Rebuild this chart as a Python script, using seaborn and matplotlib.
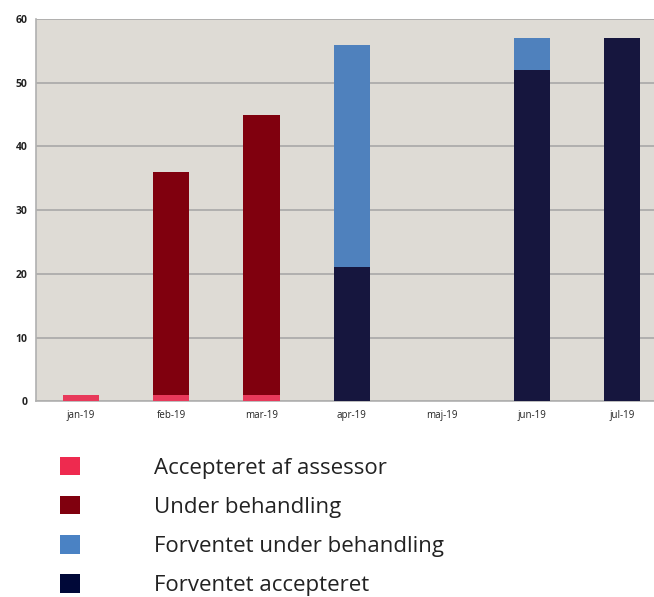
import matplotlib
matplotlib.use("Agg")
import matplotlib.pyplot as plt
import seaborn as sns
import pandas as pd
import numpy as np
from matplotlib.patches import Patch

months = ["jan-19", "feb-19", "mar-19", "apr-19", "maj-19", "jun-19", "jul-19"]
accepteret = [1, 1, 1, 0, 0, 0, 0]
under_behandling = [0, 35, 44, 0, 0, 0, 0]
forventet_accepteret = [0, 0, 0, 21, 0, 52, 57]
forventet_under = [0, 0, 0, 35, 0, 5, 0]

series = [
    ("Accepteret af assessor", accepteret, "#e8395a"),
    ("Under behandling", under_behandling, "#80000e"),
    ("Forventet accepteret", forventet_accepteret, "#16163e"),
    ("Forventet under behandling", forventet_under, "#4f81bd"),
]
legend_order = ["Accepteret af assessor", "Under behandling",
                "Forventet under behandling", "Forventet accepteret"]
legend_colors = {"Accepteret af assessor": "#ee2a4f", "Under behandling": "#80000e",
                 "Forventet under behandling": "#4a82c4", "Forventet accepteret": "#000838"}

sns.set_style("white")
plt.rcParams["font.family"] = ["Open Sans", "DejaVu Sans"]

fig = plt.figure(figsize=(6.54, 5.97), dpi=100)
ax = fig.add_axes([0.055, 0.328, 0.945, 0.64])
ax.set_facecolor("#dedbd5")

bottom = np.zeros(len(months))
for name, vals, col in series:
    df = pd.DataFrame({"month": months, "value": vals})
    sns.barplot(data=df, x="month", y="value", color=col, width=0.4,
                bottom=bottom, ax=ax, saturation=1, zorder=3, linewidth=0)
    bottom = bottom + np.array(vals)

ax.set_yticks(range(0, 61, 10))
ax.set_xlabel("")
ax.set_ylabel("")
ax.yaxis.grid(True, color="#a8a8a8", linewidth=1.2, zorder=1)
ax.set_axisbelow(True)
for s in ["top", "right"]:
    ax.spines[s].set_visible(False)
for s in ["left", "bottom"]:
    ax.spines[s].set_color("#b0b0b0")
    ax.spines[s].set_linewidth(1.2)

ax.set_xticks(np.arange(len(months)))
ax.set_xticklabels(months, fontsize=7, color="#222222")
ax.tick_params(axis="x", length=0, pad=6)
ax.set_xticks(np.arange(len(months)) + 0.5, minor=True)
ax.tick_params(axis="x", which="minor", length=4, color="#b0b0b0")
ax.tick_params(axis="y", length=3, color="#b0b0b0", labelsize=7.5, pad=3)
for lbl in ax.get_yticklabels():
    lbl.set_fontweight("bold")
    lbl.set_color("#222222")

ax.set_ylim(0, 60)
ax.set_xlim(-0.5, 6.35)

handles = [Patch(facecolor=legend_colors[n], edgecolor="none") for n in legend_order]
fig.legend(handles, legend_order, loc="upper left", bbox_to_anchor=(0.078, 0.250),
           frameon=False, fontsize=16, handlelength=0.9, handleheight=0.9,
           handletextpad=3.35, labelspacing=0.78, borderaxespad=0,
           labelcolor="#222222")

fig.savefig("out.png", dpi=100)
